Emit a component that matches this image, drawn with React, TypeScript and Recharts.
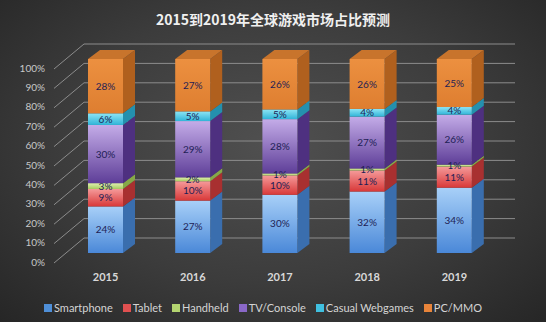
import { BarChart, Bar, XAxis, YAxis, CartesianGrid, Legend, LabelList } from 'recharts'

const YEARS = ['2015', '2016', '2017', '2018', '2019']
const SMARTPHONE = [24, 27, 30, 32, 34]
const TABLET = [9, 10, 10, 11, 11]
const HANDHELD = [3, 2, 1, 1, 1]
const TV_CONSOLE = [30, 29, 28, 27, 26]
const CASUAL = [6, 5, 5, 4, 4]
const PC_MMO = [28, 27, 26, 26, 25]
const Y_TICKS = [0, 0.1, 0.2, 0.3, 0.4, 0.5, 0.6, 0.7, 0.8, 0.9, 1]

const data = YEARS.map((year, i) => ({
  year,
  smartphone: SMARTPHONE[i],
  tablet: TABLET[i],
  handheld: HANDHELD[i],
  tv: TV_CONSOLE[i],
  casual: CASUAL[i],
  pc: PC_MMO[i],
}))

const SERIES = [
  { key: 'smartphone', name: 'Smartphone', fill: '#4f8fd8', top: '#a8d0f8', bottom: '#4a88d8', side: '#3a6eae' },
  { key: 'tablet', name: 'Tablet', fill: '#e05050', top: '#f59a9a', bottom: '#d83838', side: '#a83030' },
  { key: 'handheld', name: 'Handheld', fill: '#b4d470', top: '#e0f0b0', bottom: '#a8cc60', side: '#86a848' },
  { key: 'tv', name: 'TV/Console', fill: '#8a68c8', top: '#c4ace8', bottom: '#5e3e98', side: '#4e3080' },
  { key: 'casual', name: 'Casual Webgames', fill: '#40c0e0', top: '#8ce4f4', bottom: '#30b4d8', side: '#2490ae' },
  { key: 'pc', name: 'PC/MMO', fill: '#e8843a', top: '#ec9040', bottom: '#de7e30', side: '#b0601e' },
]

const DX = 12
const DY = 9

const makeShape = (s: any, isTop: boolean) => (props: any) => {
  const { x, y, width: w, height: h } = props
  if (!h || h <= 0) return <g />
  const side = `${x + w},${y} ${x + w + DX},${y - DY} ${x + w + DX},${y + h - DY} ${x + w},${y + h}`
  const cap = `${x},${y} ${x + DX},${y - DY} ${x + w + DX},${y - DY} ${x + w},${y}`
  return (
    <g>
      <polygon points={side} fill={s.side} />
      {isTop && <polygon points={cap} fill="#c8742c" />}
      <rect x={x} y={y} width={w} height={h} fill={`url(#g-${s.key})`} />
    </g>
  )
}

const YTick = ({ y, payload }: any) => (
  <g>
    <line x1={54} y1={y + 10} x2={84} y2={y - 15} stroke="#8c8c8c" strokeWidth={1} />
    <text x={45} y={y + 9} dy="0.35em" textAnchor="end" fill="#c8c8c8" fontSize={10} fontFamily="Lato">
      {Math.round(payload.value * 100)}%
    </text>
  </g>
)

export default function App() {
  return (
    <div
      style={{
        position: 'absolute',
        left: 0,
        top: 0,
        width: 546,
        height: 322,
        background: 'radial-gradient(ellipse at 50% 45%, #505050 0%, #3c3c3c 55%, #262626 100%)',
        fontFamily: 'Lato',
      }}
    >
      <div
        style={{
          position: 'absolute',
          top: 9,
          width: 546,
          textAlign: 'center',
          color: '#f0f0f0',
          fontSize: 14,
          fontWeight: 'bold',
          fontFamily: '"Noto Sans CJK SC"',
        }}
      >
        2015到2019年全球游戏市场占比预测
      </div>
      <BarChart
        width={546}
        height={322}
        data={data}
        stackOffset="expand"
        margin={{ top: 59, right: 48, left: 0, bottom: 9 }}
      >
        <defs>
          {SERIES.map(s => (
            <linearGradient key={s.key} id={`g-${s.key}`} x1="0" y1="0" x2="0" y2="1">
              <stop offset="0%" stopColor={s.top} />
              <stop offset="100%" stopColor={s.bottom} />
            </linearGradient>
          ))}
        </defs>
        <CartesianGrid
          vertical={false}
          horizontal={(p: any) => (
            <line
              key={`h-${p.index}`}
              x1={84}
              x2={515}
              y1={p.y1 - 15}
              y2={p.y2 - 15}
              stroke="#8c8c8c"
              strokeWidth={1}
            />
          )}
        />
        <XAxis
          dataKey="year"
          axisLine={false}
          tickLine={false}
          tickMargin={14}
          height={30}
          tick={{ fill: '#d8d8d8', fontSize: 11, fontWeight: 'bold', fontFamily: 'Lato' }}
        />
        <YAxis
          width={62}
          domain={[0, 1]}
          ticks={Y_TICKS}
          interval={0}
          axisLine={false}
          tickLine={false}
          tick={<YTick />}
        />
        <Legend
          verticalAlign="bottom"
          height={30}
          iconType="square"
          iconSize={8}
          itemSorter={null as any}
          wrapperStyle={{ top: 296, left: 0, width: 536 }}
          formatter={(value: string) => (
            <span style={{ color: '#d4d4d4', fontSize: 11, marginLeft: -2 }}>{value}</span>
          )}
        />
        {SERIES.map((s, i) => (
          <Bar
            key={s.key}
            dataKey={s.key}
            name={s.name}
            stackId="a"
            fill={s.fill}
            barSize={35}
            isAnimationActive={false}
            shape={makeShape(s, i === SERIES.length - 1)}
          >
            <LabelList
              dataKey={s.key}
              position="center"
              fill="#1e1e55"
              fontSize={10}
              fontFamily="Lato"
              formatter={(v: any) => `${v}%`}
            />
          </Bar>
        ))}
      </BarChart>
    </div>
  )
}
